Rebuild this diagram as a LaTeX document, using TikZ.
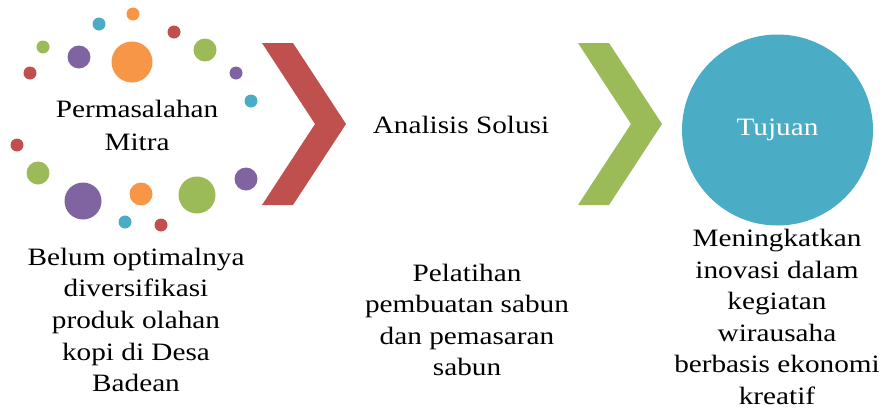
\documentclass[tikz,border=0pt]{standalone}
\usepackage{fontspec}
\setmainfont{Liberation Serif}[FakeStretch=1.17]
\definecolor{cred}{HTML}{C0504D}
\definecolor{cgreen}{HTML}{9BBB59}
\definecolor{cpurple}{HTML}{8064A2}
\definecolor{corange}{HTML}{F79646}
\definecolor{ccyan}{HTML}{4BACC6}
\tikzset{
  dot/.style={circle,inner sep=0pt,minimum size=#1,draw=none},
  txt/.style={align=center,inner sep=0pt,font=\fontsize{25}{31.6}\selectfont},
  head/.style={align=center,inner sep=0pt,font=\fontsize{25}{33}\selectfont},
}
\begin{document}
\begin{tikzpicture}[x=1pt,y=-1pt]
\useasboundingbox (0,0) rectangle (882,410);
% dots
\node[dot=13,fill=corange] (d1) at (133,14) {};
\node[dot=13,fill=ccyan] (d2) at (99,24) {};
\node[dot=13,fill=cred] (d3) at (174,32) {};
\node[dot=13,fill=cgreen] (d4) at (43,47) {};
\node[dot=23,fill=cpurple] (d5) at (79,57) {};
\node[dot=41,fill=corange] (d6) at (132,62) {};
\node[dot=23,fill=cgreen] (d7) at (205,50) {};
\node[dot=13,fill=cred] (d8) at (30,73) {};
\node[dot=13,fill=cpurple] (d9) at (236,73) {};
\node[dot=13,fill=ccyan] (d10) at (251,101) {};
\node[dot=13,fill=cred] (d11) at (17,145) {};
\node[dot=23,fill=cgreen] (d12) at (38,173) {};
\node[dot=37,fill=cpurple] (d13) at (83,201) {};
\node[dot=23,fill=corange] (d14) at (141,194) {};
\node[dot=37,fill=cgreen] (d15) at (197,195) {};
\node[dot=23,fill=cpurple] (d16) at (246,179) {};
\node[dot=13,fill=ccyan] (d17) at (125,222) {};
\node[dot=13,fill=cred] (d18) at (161,225) {};
\node[head] (perm) at (137,125) {Permasalahan\\Mitra};
% chevrons
\fill[cred] (262,43) -- (293,43) -- (346,124) -- (293,205) -- (262,205) -- (315,124) -- cycle;
\fill[cgreen] (578,43) -- (609,43) -- (662,124) -- (609,205) -- (578,205) -- (631,124) -- cycle;
\node[head] (anal) at (461,125) {Analisis Solusi};
% goal circle
\node[circle,fill=ccyan,minimum size=191,inner sep=0pt,text=white,font=\fontsize{25}{26}\selectfont] (tuj) at (777.5,130) {Tujuan};
% texts
\node[txt] (t1) at (136,320) {Belum optimalnya\\diversifikasi\\produk olahan\\kopi di Desa\\Badean};
\node[txt] (t2) at (467,320) {Pelatihan\\pembuatan sabun\\dan pemasaran\\sabun};
\node[txt] (t3) at (777,317) {Meningkatkan\\inovasi dalam\\kegiatan\\wirausaha\\berbasis ekonomi\\kreatif};
\end{tikzpicture}
\end{document}
